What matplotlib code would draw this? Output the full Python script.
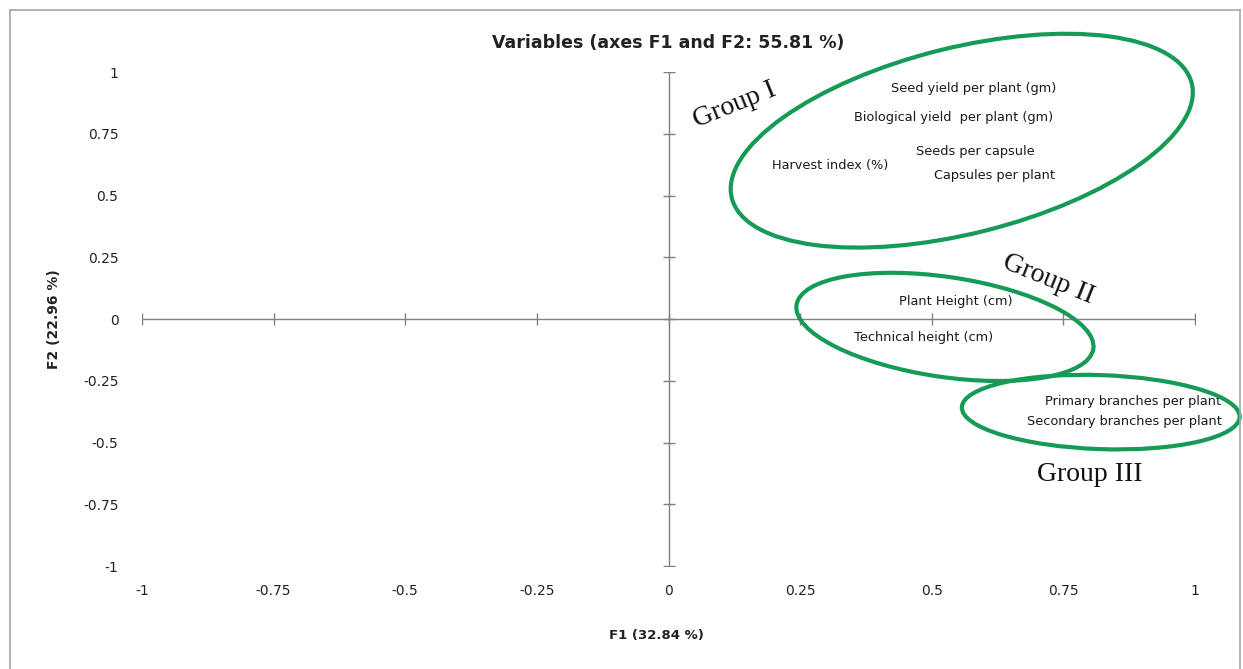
import matplotlib.pyplot as plt
import numpy as np
from matplotlib.patches import Ellipse
from matplotlib.lines import Line2D
from matplotlib.transforms import IdentityTransform

# variable labels placed at their (F1, F2) coordinates
variables = ['Seed yield per plant (gm)', 'Biological yield  per plant (gm)',
             'Seeds per capsule', 'Harvest index (%)', 'Capsules per plant',
             'Plant Height (cm)', 'Technical height (cm)',
             'Primary branches per plant', 'Secondary branches per plant']
f1 = [0.580, 0.542, 0.582, 0.307, 0.620, 0.546, 0.485, 0.882, 0.866]
f2 = [0.935, 0.814, 0.680, 0.623, 0.579, 0.069, -0.073, -0.336, -0.413]

ticks = [-1, -0.75, -0.5, -0.25, 0, 0.25, 0.5, 0.75, 1]
tick_labels = ['-1', '-0.75', '-0.5', '-0.25', '0', '0.25', '0.5', '0.75', '1']

# groups drawn around the variables: centre (F1, F2), size in px, angle
groups = ['Group I', 'Group II', 'Group III']
group_cx = [0.557, 0.525, 0.821]
group_cy = [0.722, -0.032, -0.377]
group_w = [474, 300, 278]
group_h = [186, 100, 74]
group_ang = [14, -8.4, -2]
group_lx = [0.126, 0.721, 0.800]
group_ly = [0.866, 0.162, -0.628]
group_rot = [22, -22, 0]

green = '#169b56'
grey = '#808080'

fig = plt.figure(figsize=(12.43, 6.69), dpi=100)
ax = fig.add_axes([142 / 1243, 103 / 669, 1053 / 1243, 494 / 669])
ax.set_xlim(-1, 1)
ax.set_ylim(-1, 1)
for s in ax.spines.values():
    s.set_visible(False)

# axes through the origin with crossing tick marks
ax.plot([-1, 1], [0, 0], color=grey, lw=1)
ax.plot([0, 0], [-1, 1], color=grey, lw=1)
ax.plot(ticks, np.zeros(len(ticks)), ls='none', marker='|', ms=8, mew=1, color=grey)
ax.plot(np.zeros(len(ticks)), ticks, ls='none', marker='_', ms=8, mew=1, color=grey)

ax.set_xticks(ticks, tick_labels)
ax.set_yticks(ticks, tick_labels)
ax.tick_params(axis='x', length=0, pad=13, labelsize=10, labelcolor='#222222')
ax.tick_params(axis='y', length=0, pad=17, labelsize=10, labelcolor='#222222')

ax.set_title('Variables (axes F1 and F2: 55.81 %)', fontsize=12.5, fontweight='bold',
             color='#222222', pad=17)
ax.set_xlabel('F1 (32.84 %)', fontsize=9.5, fontweight='bold', color='#222222')
ax.xaxis.set_label_coords(0.4885, -0.127)
ax.set_ylabel('F2 (22.96 %)', fontsize=10, fontweight='bold', color='#222222', labelpad=16)

for name, x, y in zip(variables, f1, f2):
    ax.text(x, y, name, ha='center', va='center', fontsize=9.3, color='#1a1a1a', clip_on=False)

for i in range(len(groups)):
    cx, cy = ax.transData.transform((group_cx[i], group_cy[i]))
    e = Ellipse((cx, cy), group_w[i], group_h[i], angle=group_ang[i], fill=False,
                edgecolor=green, lw=3, transform=IdentityTransform())
    fig.add_artist(e)
    ax.text(group_lx[i], group_ly[i], groups[i], ha='center', va='center',
            rotation=group_rot[i], rotation_mode='anchor', fontsize=20,
            family='Liberation Serif', color='#111111', clip_on=False)

# outer chart frame
frame = '#a6a6a6'
fig.add_artist(Line2D([10 / 1243, 10 / 1243], [0, 659 / 669], color=frame, lw=1.2, transform=fig.transFigure))
fig.add_artist(Line2D([10 / 1243, 1240 / 1243], [659 / 669, 659 / 669], color=frame, lw=1.2, transform=fig.transFigure))
fig.add_artist(Line2D([1240 / 1243, 1240 / 1243], [0, 659 / 669], color=frame, lw=1.2, transform=fig.transFigure))

fig.savefig('out.png', dpi=100)
